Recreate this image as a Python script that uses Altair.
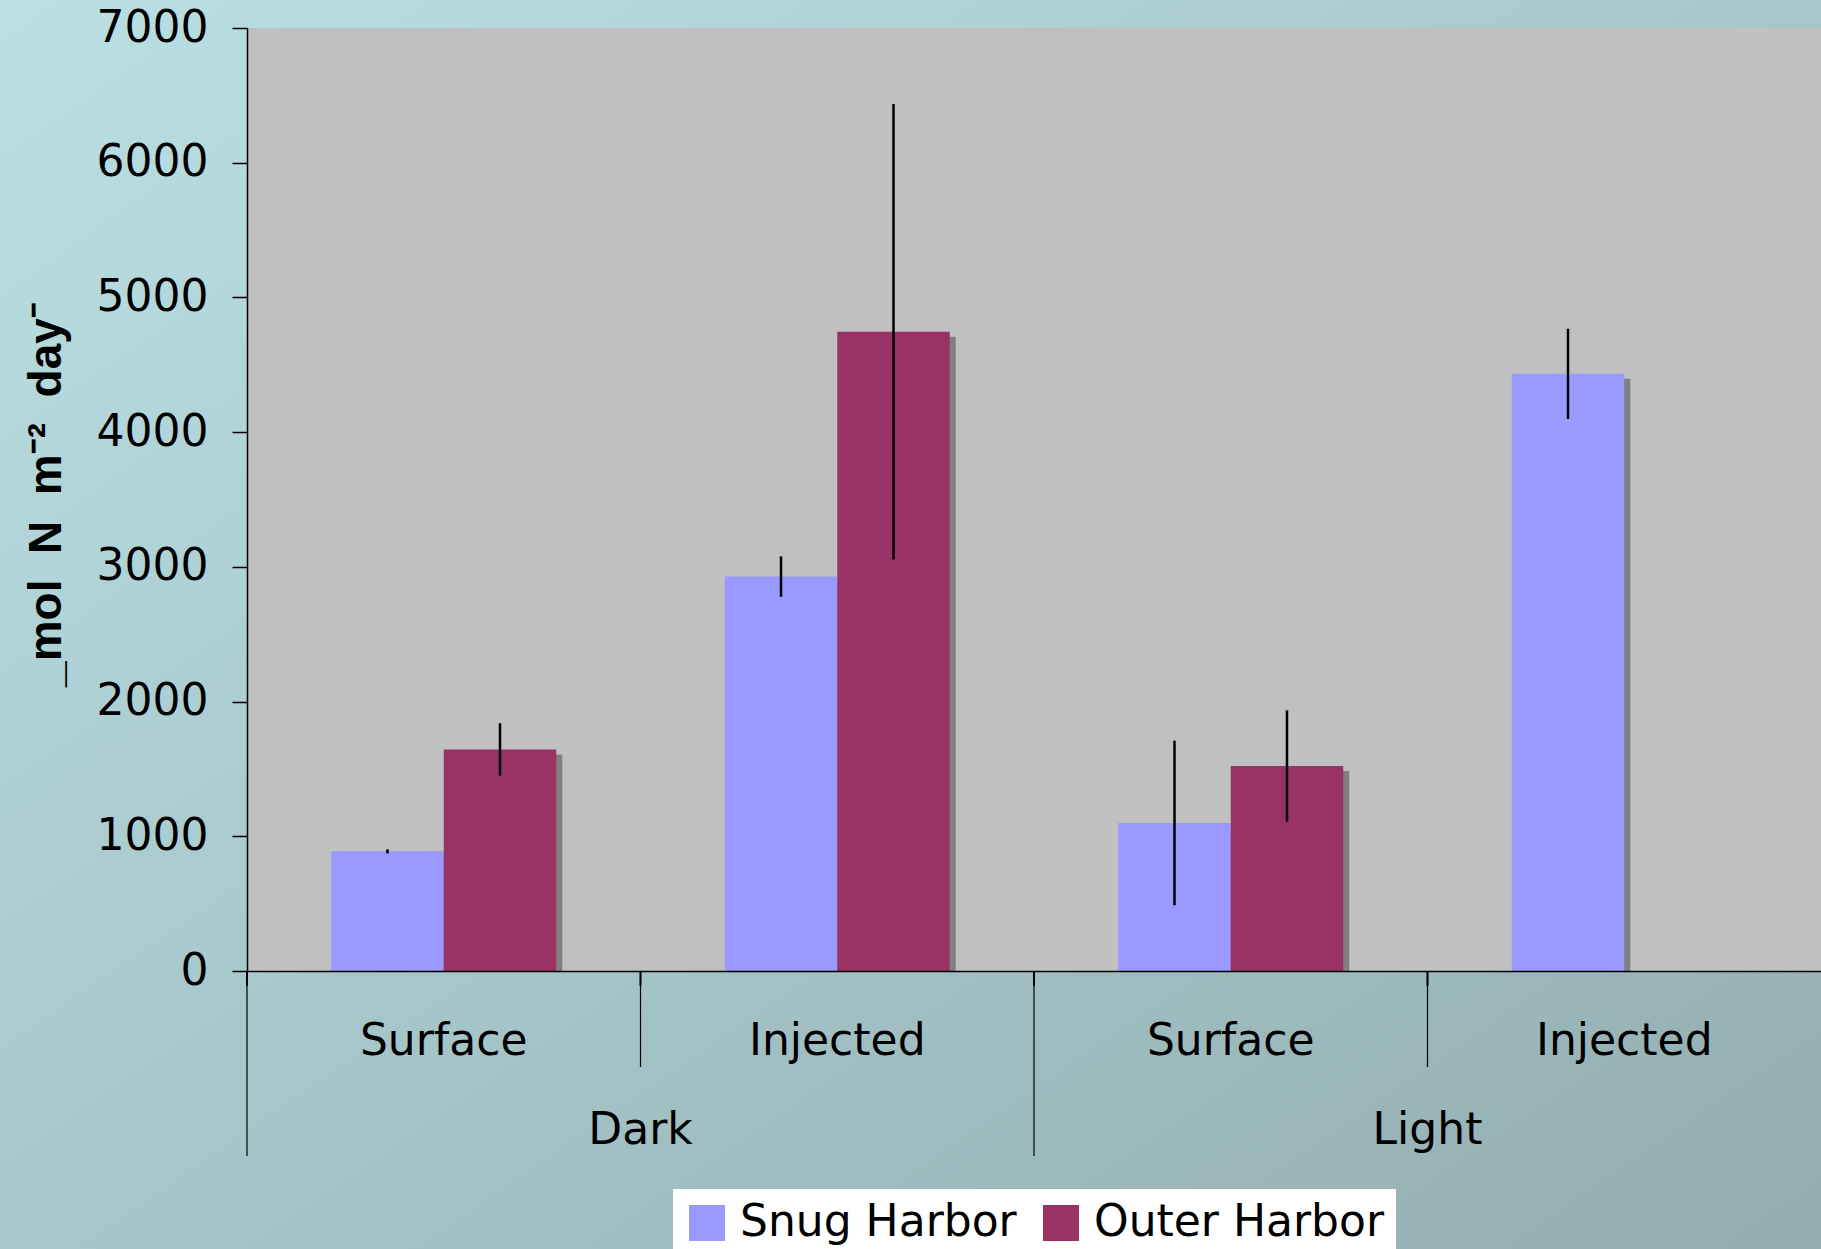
import altair as alt
import pandas as pd

# ---- data ----
light_cond = ["Dark", "Dark", "Dark", "Dark", "Light", "Light", "Light"]
placement = ["Surface", "Surface", "Injected", "Injected", "Surface", "Surface", "Injected"]
site = ["Snug Harbor", "Outer Harbor", "Snug Harbor", "Outer Harbor",
        "Snug Harbor", "Outer Harbor", "Snug Harbor"]
rate = [888, 1645, 2928, 4745, 1099, 1522, 4433]
err = [15, 195, 150, 1690, 611, 413, 335]

groups = ["Dark", "Light"]
methods = ["Surface", "Injected"]
site_order = ["Snug Harbor", "Outer Harbor"]
site_colors = ["#9999ff", "#993366"]
y_ticks = [0, 1000, 2000, 3000, 4000, 5000, 6000, 7000]
y_title = "_mol\u00a0 N\u00a0 m\u207b\u00b2\u00a0 day\u207b"

cat_order = [g + " " + m for g in groups for m in methods]

df = pd.DataFrame({"light": light_cond, "placement": placement, "site": site,
                   "rate": rate, "err": err})
df["cat"] = df["light"] + " " + df["placement"]

W, H = 1574, 943
PAD = {"left": 247, "top": 28, "right": 0, "bottom": 278}
FONT = "DejaVu Sans"

xscale = alt.Scale(domain=cat_order, paddingInner=0, paddingOuter=0)
yscale = alt.Scale(domain=[0, 7000], nice=False)
off_scale = alt.Scale(domain=site_order, paddingInner=0, paddingOuter=0.749)
shadow_off_scale = alt.Scale(domain=site_order, paddingInner=0, paddingOuter=0.749,
                             range=[6, W / 4 + 6])

x_axis = alt.Axis(title=None, labelExpr="split(datum.label, ' ')[1]",
                  labelAngle=0, labelFont=FONT, labelFontSize=44,
                  labelColor="black", labelPadding=48, ticks=False,
                  tickSize=0, domainColor="black", domainWidth=1.5,
                  labelOverlap=False, labelLimit=0, zindex=2)
y_axis = alt.Axis(title=y_title, values=y_ticks, format="d", grid=False,
                  labelFont=FONT, labelFontSize=44, labelColor="black",
                  labelPadding=24, tickSize=15, tickColor="black",
                  tickWidth=1.5, domainColor="black", domainWidth=1.5,
                  titleFont="Liberation Sans", titleFontSize=46,
                  titleFontWeight="bold", titleColor="black",
                  titleAngle=270, titleAlign="center",
                  titleBaseline="middle", titleX=-201, titleY=466,
                  zindex=2)


def X(**kw):
    return alt.X("cat:N", scale=xscale, sort=cat_order, title=None, axis=x_axis, **kw)


one = pd.DataFrame({"k": [0]})

bg = alt.Chart(one).mark_rect(
    fill={"gradient": "linear", "x1": 0, "y1": 0, "x2": 1, "y2": 1,
          "stops": [{"offset": 0, "color": "#bae0e4"},
                    {"offset": 1, "color": "#93adb0"}]}
).encode(x=alt.value(-PAD["left"]), x2=alt.value(W),
         y=alt.value(-PAD["top"]), y2=alt.value(H + PAD["bottom"]))

plot_bg = alt.Chart(one).mark_rect(color="#c0c0c0").encode(
    x=alt.value(0), x2=alt.value(W), y=alt.value(0), y2=alt.value(H))

shadow = alt.Chart(df).mark_bar(color="#808080", yOffset=5, clip=True).encode(
    x=X(),
    xOffset=alt.XOffset("site:N", scale=shadow_off_scale),
    y=alt.Y("rate:Q", scale=yscale, title=y_title, axis=y_axis),
)

bars = alt.Chart(df).mark_bar().encode(
    x=X(),
    xOffset=alt.XOffset("site:N", scale=off_scale),
    y=alt.Y("rate:Q", scale=yscale, title=y_title, axis=y_axis),
    color=alt.Color("site:N", scale=alt.Scale(domain=site_order, range=site_colors),
                    legend=alt.Legend(orient="none", legendX=426, legendY=1161,
                                      direction="horizontal", title=None,
                                      fillColor="white", padding=12,
                                      symbolType="square", symbolSize=1296,
                                      symbolStrokeWidth=0, symbolOpacity=1,
                                      labelFont=FONT, labelFontSize=44,
                                      labelColor="black", labelOffset=11,
                                      labelLimit=0, columnPadding=22)),
)

errs = alt.Chart(df).transform_calculate(
    lo="datum.rate - datum.err", hi="datum.rate + datum.err"
).mark_rule(color="black", strokeWidth=2.5).encode(
    x=X(),
    xOffset=alt.XOffset("site:N", scale=off_scale),
    y=alt.Y("lo:Q", scale=yscale, title=y_title, axis=y_axis),
    y2="hi:Q",
)

group_sep = pd.DataFrame({"cat": [g + " " + methods[0] for g in groups]})
sub_sep = pd.DataFrame({"cat": [g + " " + methods[1] for g in groups]})
all_sep = pd.DataFrame({"cat": cat_order})
group_lab = pd.DataFrame({"group": groups, "cat": [g + " " + methods[1] for g in groups]})

gsep = alt.Chart(group_sep).mark_rule(color="black", strokeWidth=1.2).encode(
    x=X(bandPosition=0), y=alt.value(H), y2=alt.value(H + 185))

ssep = alt.Chart(sub_sep).mark_rule(color="black", strokeWidth=1.2).encode(
    x=X(bandPosition=0), y=alt.value(H), y2=alt.value(H + 96))

ticks = alt.Chart(all_sep).mark_rule(color="black", strokeWidth=2).encode(
    x=X(bandPosition=0), y=alt.value(H), y2=alt.value(H + 15))

glabels = alt.Chart(group_lab).mark_text(
    font=FONT, fontSize=44, color="black", align="center", baseline="alphabetic"
).encode(
    x=X(bandPosition=0),
    y=alt.value(H + 173),
    text="group:N",
)

chart = alt.layer(
    bg, plot_bg, shadow, bars, errs, gsep, ssep, ticks, glabels
).resolve_scale(
    xOffset="independent"
).properties(
    width=W, height=H, padding=PAD, autosize=alt.AutoSizeParams(type="none"),
    background="#a9c8cb",
).configure_view(stroke=None)

chart.save("out.html", embed_options={"renderer": "svg", "actions": False})
